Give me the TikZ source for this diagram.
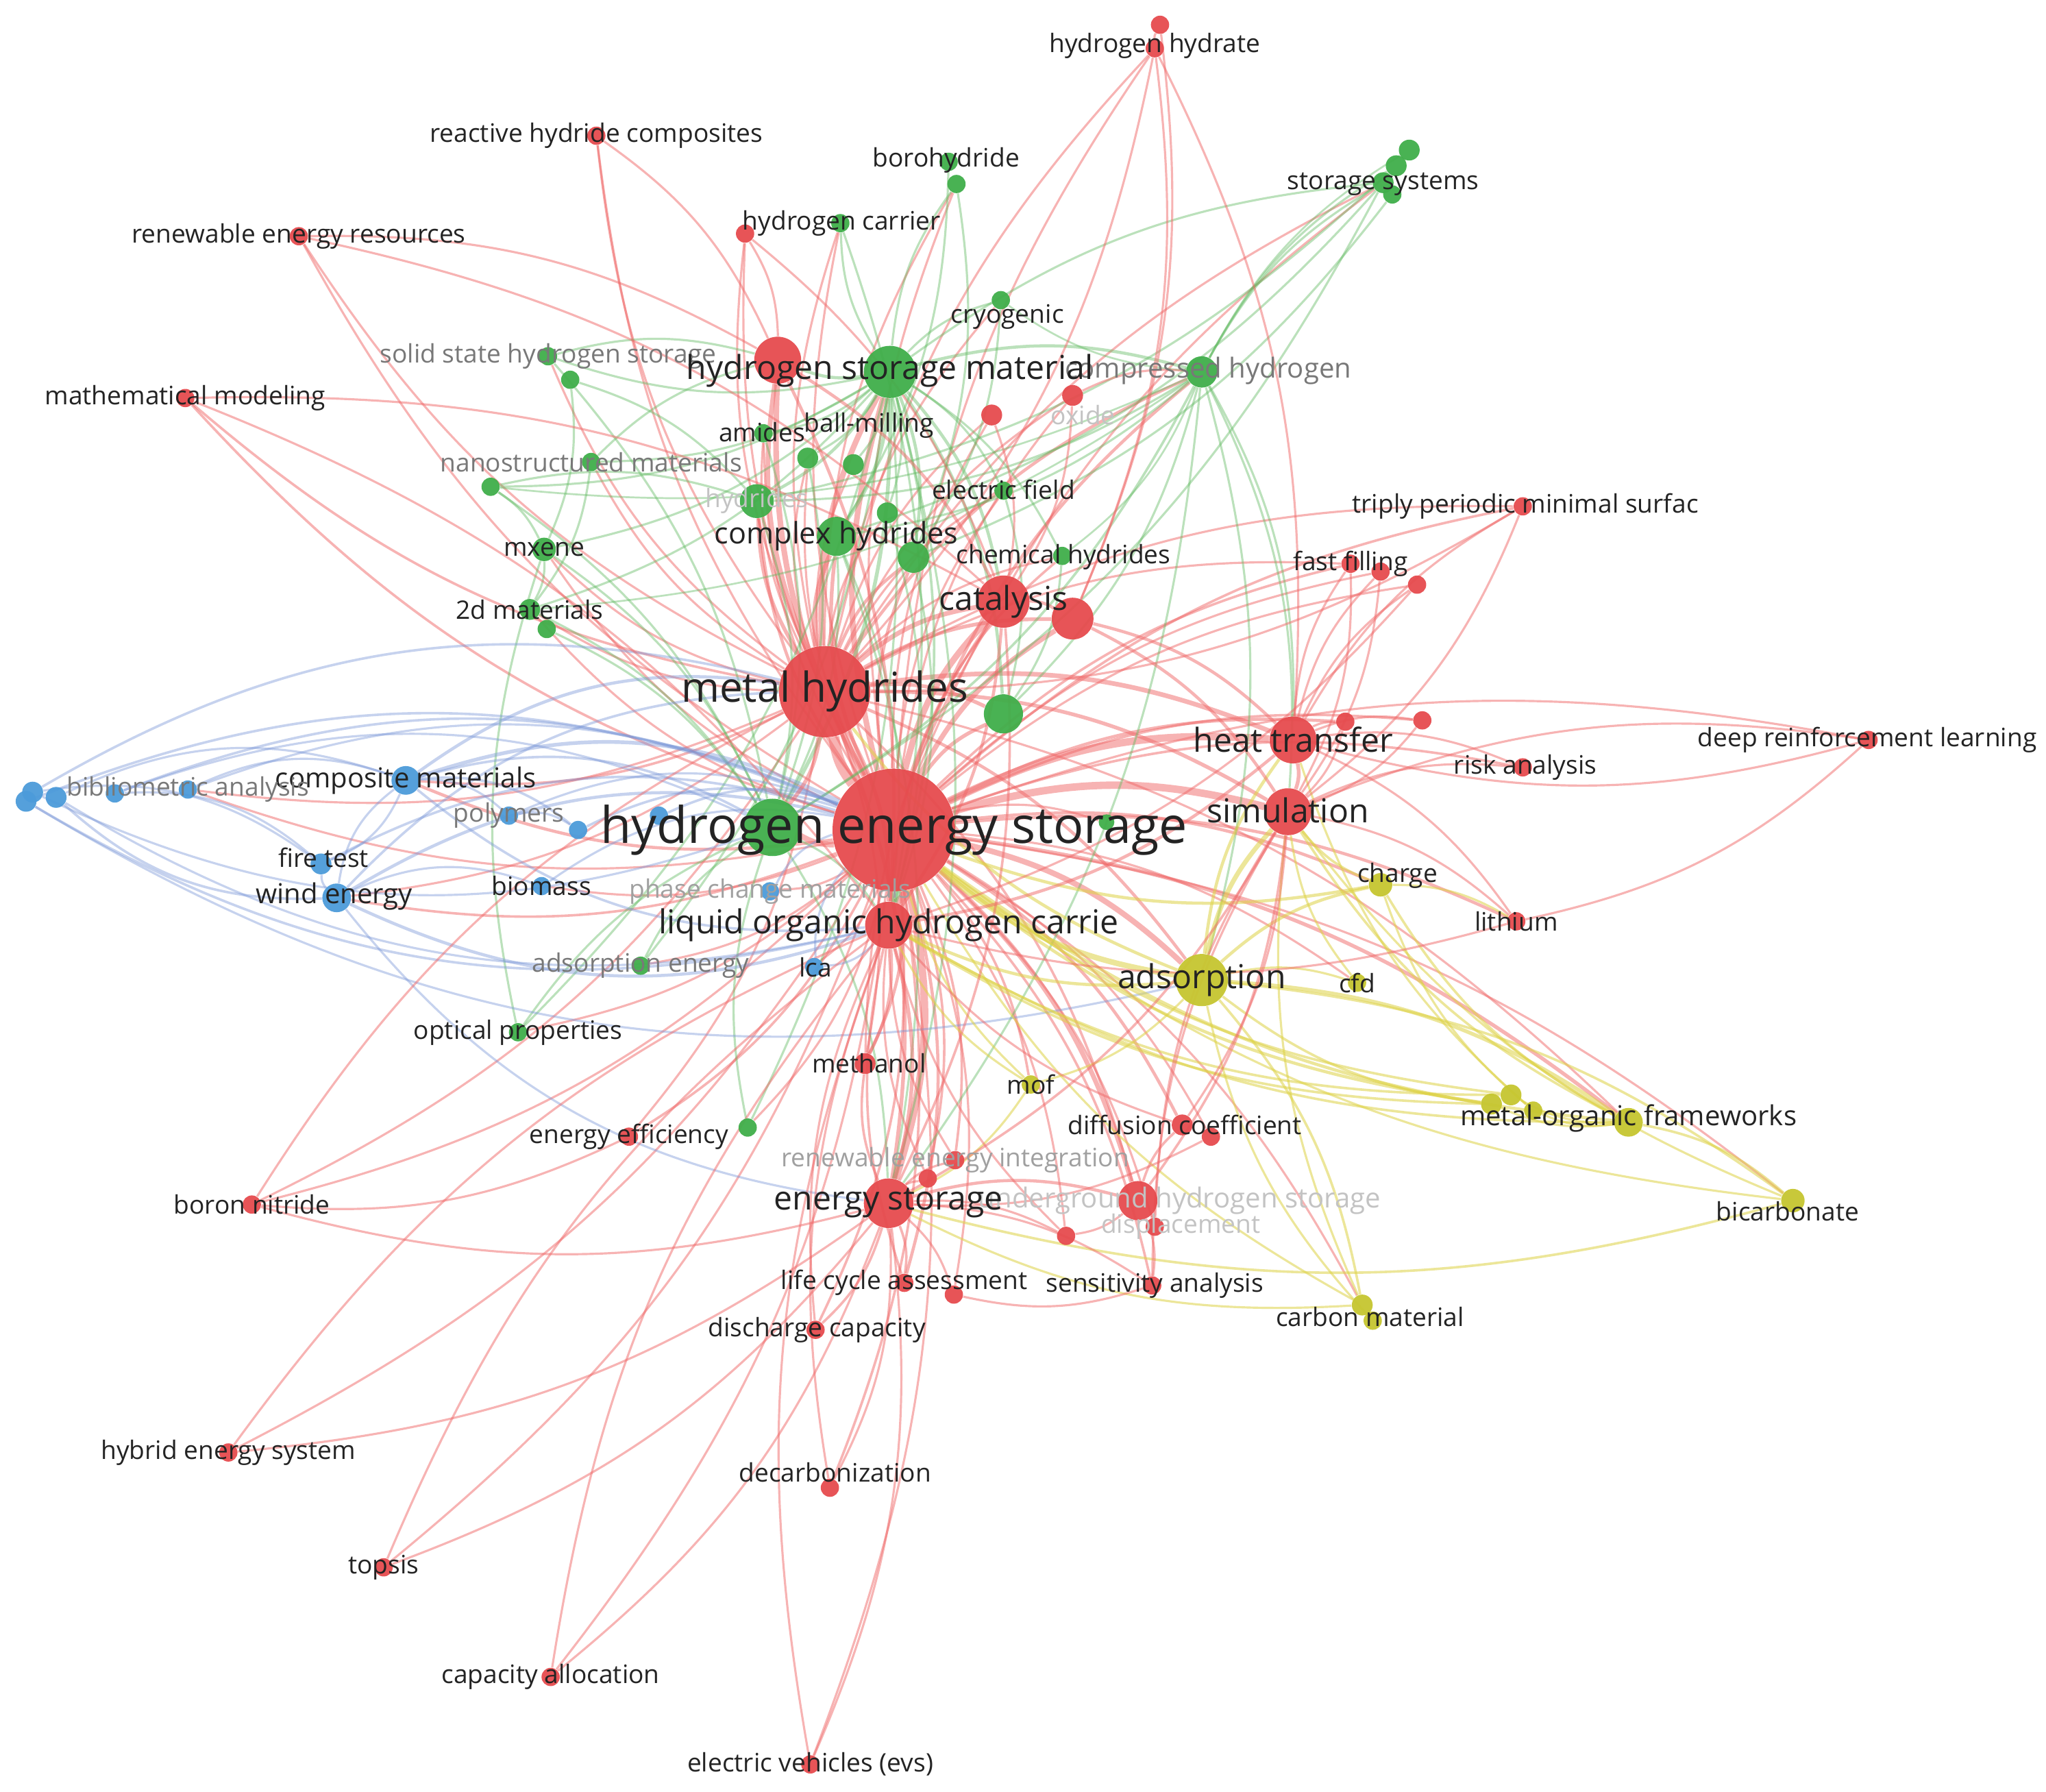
\documentclass[tikz,border=0pt]{standalone}
\usepackage{fontspec}
\setmainfont{Open Sans}
\pgfdeclarelayer{bg}
\pgfsetlayers{bg,main}
\definecolor{cR}{RGB}{230,75,78}
\definecolor{cG}{RGB}{64,174,74}
\definecolor{cB}{RGB}{76,155,218}
\definecolor{cY}{RGB}{198,198,48}
\definecolor{eRc}{RGB}{240,105,105}
\definecolor{eGc}{RGB}{95,185,95}
\definecolor{eBc}{RGB}{120,150,215}
\definecolor{eYc}{RGB}{222,210,70}
\definecolor{txt}{RGB}{35,35,35}
\definecolor{gA}{RGB}{120,120,120}
\definecolor{gB}{RGB}{160,160,160}
\definecolor{gC}{RGB}{195,195,195}
\tikzset{
  dotst/.style={circle, inner sep=0pt, draw=none, fill opacity=0.95},
  eR/.style={draw=eRc, draw opacity=0.5},
  eG/.style={draw=eGc, draw opacity=0.42},
  eB/.style={draw=eBc, draw opacity=0.42},
  eY/.style={draw=eYc, draw opacity=0.55},
  lS/.style={inner sep=0pt, text=txt, font=\fontsize{11.1}{13}\selectfont},
  lM/.style={inner sep=0pt, text=txt, font=\fontsize{12}{14}\selectfont},
  lCH/.style={inner sep=0pt, text=txt, font=\fontsize{12.9}{15}\selectfont},
  lL/.style={inner sep=0pt, text=txt, font=\fontsize{14.4}{17}\selectfont},
  lXL/.style={inner sep=0pt, text=txt, font=\fontsize{18}{21}\selectfont},
  lXXL/.style={inner sep=0pt, text=txt, font=\fontsize{22}{26}\selectfont},
  fa/.style={text=gA}, fb/.style={text=gB}, fc/.style={text=gC}
}
\newcommand\dotnode[5]{\node[dotst, fill=#4, minimum size=#5*0.04cm] (#1) at (#2,#3) {};}
\newcommand\lab[5][]{\node[#1] (#2) at (#3,#4) {#5};}
\begin{document}
\begin{tikzpicture}[x=0.02cm, y=-0.02cm]
\begin{pgfonlayer}{bg}
\fill[white] (0,0) rectangle (1568,1373);
\end{pgfonlayer}
\useasboundingbox (0,0) rectangle (1568,1373);
% ---------- red nodes
\dotnode{hes}{685}{636}{cR}{47}
\dotnode{mh}{632}{530}{cR}{35}
\dotnode{cat}{769}{461}{cR}{20}
\dotnode{cat2}{822}{474}{cR}{16}
\dotnode{ht}{991}{567}{cR}{18}
\dotnode{sim}{987}{622}{cR}{18}
\dotnode{lohc}{681}{709}{cR}{18}
\dotnode{es}{681}{922}{cR}{19}
\dotnode{uhs}{872}{920}{cR}{15}
\dotnode{rsm}{596}{276}{cR}{18}
\dotnode{hh}{885}{37}{cR}{7}
\dotnode{hhb}{889}{19}{cR}{7}
\dotnode{rhc}{457}{104}{cR}{7}
\dotnode{rer}{229}{181}{cR}{7}
\dotnode{mm}{142}{305}{cR}{7}
\dotnode{rc}{571}{179}{cR}{7}
\dotnode{ox}{822}{303}{cR}{8}
\dotnode{rs}{760}{318}{cR}{8}
\dotnode{tpms}{1167}{388}{cR}{7}
\dotnode{ff}{1035}{432}{cR}{7}
\dotnode{ffb}{1058}{438}{cR}{7}
\dotnode{ffc}{1086}{448}{cR}{7}
\dotnode{raa}{1031}{553}{cR}{7}
\dotnode{rab}{1090}{552}{cR}{7}
\dotnode{ra}{1167}{588}{cR}{7}
\dotnode{drl}{1432}{567}{cR}{7}
\dotnode{li}{1162}{706}{cR}{7}
\dotnode{dc}{906}{862}{cR}{8}
\dotnode{dcb}{928}{871}{cR}{7}
\dotnode{meth}{663}{815}{cR}{8}
\dotnode{ee}{482}{871}{cR}{7}
\dotnode{rei}{732}{889}{cR}{7}
\dotnode{reib}{711}{903}{cR}{7}
\dotnode{bn}{193}{923}{cR}{7}
\dotnode{sa}{883}{985}{cR}{7}
\dotnode{disp}{885}{940}{cR}{7}
\dotnode{rx}{817}{947}{cR}{7}
\dotnode{lcas}{693}{983}{cR}{7}
\dotnode{lcab}{731}{992}{cR}{7}
\dotnode{dcap}{625}{1019}{cR}{7}
\dotnode{hyb}{175}{1113}{cR}{7}
\dotnode{dec}{636}{1140}{cR}{7}
\dotnode{tops}{294}{1201}{cR}{7}
\dotnode{capa}{422}{1285}{cR}{7}
\dotnode{ev}{621}{1352}{cR}{7}
% ---------- green nodes
\dotnode{hsm}{682}{285}{cG}{20}
\dotnode{bh}{727}{124}{cG}{7}
\dotnode{bhb}{733}{141}{cG}{7}
\dotnode{hc}{644}{171}{cG}{7}
\dotnode{cry}{767}{230}{cG}{7}
\dotnode{ssa}{1080}{115}{cG}{8}
\dotnode{ssb}{1070}{127}{cG}{8}
\dotnode{ssc}{1060}{140}{cG}{8}
\dotnode{ssd}{1067}{149}{cG}{7}
\dotnode{ch}{921}{285}{cG}{12}
\dotnode{sshs}{420}{273}{cG}{7}
\dotnode{sshsb}{437}{291}{cG}{7}
\dotnode{am}{585}{332}{cG}{7}
\dotnode{bm}{619}{351}{cG}{8}
\dotnode{bmb}{654}{356}{cG}{8}
\dotnode{nm}{453}{354}{cG}{7}
\dotnode{nmb}{376}{373}{cG}{7}
\dotnode{hyd}{580}{384}{cG}{13}
\dotnode{ef}{769}{376}{cG}{7}
\dotnode{cxh}{641}{411}{cG}{15}
\dotnode{chh}{814}{426}{cG}{7}
\dotnode{mx}{417}{421}{cG}{9}
\dotnode{dm}{406}{467}{cG}{8}
\dotnode{dmb}{419}{482}{cG}{7}
\dotnode{ga}{700}{427}{cG}{12}
\dotnode{gb}{680}{393}{cG}{8}
\dotnode{gc}{769}{547}{cG}{15}
\dotnode{gd}{592}{634}{cG}{22}
\dotnode{ae}{491}{740}{cG}{7}
\dotnode{op}{397}{791}{cG}{7}
\dotnode{ge}{573}{864}{cG}{7}
\dotnode{gf}{848}{630}{cG}{6}
% ---------- blue nodes
\dotnode{cm}{311}{598}{cB}{11}
\dotnode{ba}{144}{605}{cB}{7}
\dotnode{bab}{88}{608}{cB}{7}
\dotnode{bac}{43}{611}{cB}{8}
\dotnode{bad}{25}{607}{cB}{8}
\dotnode{bae}{20}{614}{cB}{8}
\dotnode{poly}{390}{625}{cB}{7}
\dotnode{bx}{443}{636}{cB}{7}
\dotnode{by}{505}{625}{cB}{7}
\dotnode{ft}{246}{662}{cB}{8}
\dotnode{we}{258}{688}{cB}{11}
\dotnode{bio}{415}{679}{cB}{7}
\dotnode{pcm}{590}{683}{cB}{7}
\dotnode{lca}{624}{741}{cB}{7}
% ---------- yellow nodes
\dotnode{ads}{921}{751}{cY}{20}
\dotnode{chg}{1058}{678}{cY}{9}
\dotnode{cfd}{1040}{753}{cY}{7}
\dotnode{mof}{790}{831}{cY}{7}
\dotnode{mofw}{1248}{860}{cY}{11}
\dotnode{ya}{1143}{846}{cY}{8}
\dotnode{yb}{1158}{839}{cY}{8}
\dotnode{yc}{1175}{851}{cY}{7}
\dotnode{bic}{1374}{920}{cY}{9}
\dotnode{cmat}{1044}{1000}{cY}{8}
\dotnode{cmatb}{1052}{1012}{cY}{7}
% ---------- edges
\begin{pgfonlayer}{bg}
\foreach \tg/\wd in {mh/3.5, cat/2, cat2/1.6, ht/2.4, sim/2.4, lohc/2.4, es/2.4, uhs/1.5, rsm/1.8, hsm/1.8, hh/0.7, rhc/0.7, rer/0.7, mm/0.8, tpms/0.8, ff/0.8, ffb/0.7, ffc/0.7, raa/1, rab/0.8, ra/0.8, drl/0.7, li/1, dc/1, dcb/0.7, meth/1, ee/0.8, rei/0.8, reib/0.8, bn/0.7, sa/0.8, disp/0.7, rx/0.7, lcas/1, lcab/0.7, dcap/0.8, hyb/0.7, dec/0.8, tops/0.7, capa/0.7, ev/0.7, ox/0.7, rs/0.7, rc/0.7, ads/1.8, chg/1, cfd/0.7, mof/0.8, mofw/1.2, bic/0.7, cmat/0.7, cxh/1.2, hyd/1, gd/1.8, gc/1.2, ga/1, ch/1, cm/1, we/0.8, ba/0.7, pcm/0.7, lca/0.7, bio/0.7, chh/0.8, ef/0.7, mx/0.7, dm/0.7, op/0.7, ae/0.7, ge/0.7, ssc/0.7, bhb/0.7, hc/0.7, am/0.7, bm/0.7, gf/0.7}
  \draw[eR, line width=\wd*1.35pt] (hes) to[bend left=15] (\tg);
\foreach \tg/\wd in {cat/1.5, cat2/1.2, ht/1.5, sim/1.2, lohc/1.2, es/1.2, rsm/1.5, hsm/1.8, cxh/1.5, hyd/1.2, ga/1, gb/0.7, am/0.7, bm/0.7, bmb/0.7, nm/0.7, mx/0.7, dm/0.7, sshs/0.7, rer/0.7, rhc/0.7, mm/0.8, hh/0.7, ch/1, ef/0.7, chh/0.7, tpms/0.7, ff/0.7, ads/1, uhs/0.8, meth/0.7, ee/0.7, bn/0.7, cm/0.8, ba/0.7, we/0.7, gc/1.2, ox/0.7, rs/0.7, rc/0.7, hc/0.7, bhb/0.7, ssc/0.7, cry/0.7, mofw/0.7}
  \draw[eR, line width=\wd*1.35pt] (mh) to[bend left=15] (\tg);
\foreach \tg/\wd in {cxh/1.2, hyd/1, bm/0.7, bmb/0.7, am/0.7, ga/1, gb/0.7, ch/1, cry/0.7, bhb/0.7, hc/0.7, ssc/0.7, sshs/0.7, nm/0.7, nmb/0.7, mx/0.7, dm/0.7, ef/0.7, chh/0.7, gd/1.2, gc/1, ae/0.7, op/0.7, ge/0.7, cat/1, rsm/1, es/0.7, lohc/0.8}
  \draw[eG, line width=\wd*1.35pt] (hsm) to[bend left=15] (\tg);
\foreach \tg/\wd in {ssc/0.7, ssb/0.7, ssa/0.6, cry/0.6, hyd/0.7, cxh/0.7, gd/0.8, gc/0.7, sim/0.7, ht/0.7, ads/0.7, es/0.7, chh/0.6, nmb/0.6, dm/0.6}
  \draw[eG, line width=\wd*1.35pt] (ch) to[bend left=15] (\tg);
\foreach \sa/\tg in {ssa/ssb, ssb/ssc, ssc/gd, ssc/cxh, ssb/hyd, ssd/ga, nmb/mx, nmb/hyd, nmb/gd, mx/gd, dm/gd, dmb/gd, sshs/gd, sshsb/hyd, hyd/gd, cxh/gd, cxh/lohc, ga/lohc, hc/lohc, bh/cxh, bhb/ga, cry/ga, ef/gc, chh/gc, am/gd, bm/gd, ae/gd, op/gd, op/mx, ge/gd, gd/es, gd/lohc, gb/lohc, cxh/es, sshsb/mx, nm/dm, mx/dm, sshs/rsm, nm/rsm}
  \draw[eG, line width=0.95pt] (\sa) to[bend left=15] (\tg);
\foreach \sa/\tg/\wd in {bae/hes/0.8, bad/mh/0.8, bac/cm/0.7, bab/hes/0.8, ba/cm/0.7, bad/ft/0.7, bab/ft/0.7, cm/hes/1.2, cm/mh/1, cm/ft/0.7, cm/poly/0.7, cm/bx/0.8, ft/hes/0.8, we/hes/1, we/mh/0.8, poly/hes/0.7, poly/bx/0.7, bio/hes/0.7, pcm/hes/0.7, lca/hes/0.7, by/hes/0.8, bx/hes/0.8, cm/gd/0.8, ba/hes/0.7, bab/gd/0.7}
  \draw[eB, line width=\wd*1.35pt] (\sa) to[bend left=22] (\tg);
\foreach \sa/\tg/\wd in {bac/we/0.8, bae/lohc/0.8, cm/we/0.7, cm/lohc/0.8, ft/we/0.7, we/lohc/1, we/es/0.7, bio/we/0.7, lca/lohc/0.7, bae/ads/0.7, bac/lohc/0.7, bad/gd/0.7}
  \draw[eB, line width=\wd*1.35pt] (\sa) to[bend right=22] (\tg);
\foreach \sa/\tg/\wd in {ads/hes/1.8, ads/sim/1.5, ads/ht/1, ads/mofw/1.2, ads/bic/0.8, ads/cmat/0.8, ads/chg/1, ads/cfd/0.7, ads/mof/0.7, ads/lohc/1, ads/mh/1, mofw/ya/0.7, mofw/yb/0.7, mofw/yc/0.7, mofw/bic/0.8, mofw/hes/1, mofw/sim/0.8, mofw/chg/0.8, bic/hes/0.7, bic/es/0.8, cmat/hes/0.7, cmat/es/0.7, cmatb/ads/0.7, chg/sim/0.8, chg/hes/1, chg/li/0.7, cfd/sim/0.7, ya/hes/1, yb/hes/0.8, yc/chg/0.7, ya/ads/0.8, mof/hes/0.7, mof/es/0.7, mof/lohc/0.7, yb/lohc/0.8, yc/ht/0.7, cmat/sim/0.7, bic/sim/0.7, mofw/lohc/0.8, ya/lohc/0.8}
  \draw[eY, line width=\wd*1.35pt] (\sa) to[bend left=15] (\tg);
\foreach \sa/\tg/\wd in {ht/sim/1.2, ht/ff/0.7, ht/ffb/0.7, ht/ffc/0.7, ht/tpms/0.7, ht/raa/0.7, ht/rab/0.7, ht/ra/0.7, ht/li/0.7, sim/li/0.7, sim/ra/0.7, sim/drl/0.7, sim/dc/0.7, sim/uhs/0.8, tpms/sim/0.7, drl/li/0.7, es/dcap/0.8, es/lcas/0.8, es/lcab/0.7, es/dec/0.7, es/ev/0.7, es/capa/0.7, es/tops/0.7, es/hyb/0.7, es/bn/0.7, es/rei/0.7, es/reib/0.7, es/uhs/1, es/sa/0.7, es/rx/0.7, es/meth/0.8, lohc/meth/1, lohc/es/1.2, lohc/cat/0.8, uhs/sa/0.7, uhs/disp/0.7, uhs/dc/0.8, uhs/rx/0.7, ee/bn/0.7, sa/lcab/0.7, hh/hhb/0.7, hh/ht/0.7, hh/cat2/0.7, hhb/cat2/0.7, rc/cat/0.7, rc/rsm/0.7, rs/cat/0.7, ox/ch/0.7, ox/cat/0.7, rsm/cat/1, rsm/lohc/1, cat/cat2/1, cat2/ht/1, cat2/sim/1, rer/cat/0.7, rer/rsm/0.7, hyb/lohc/0.7, mm/lohc/0.7, ff/sim/0.7, ffb/sim/0.7, ffc/lohc/0.7, rab/sim/0.7, raa/sim/0.7, li/lohc/0.7, dc/lohc/0.7, dcb/es/0.7, rei/lohc/0.7, reib/lohc/0.7, lcas/lohc/0.8, dcap/lohc/0.7, dec/lohc/0.7, ev/lohc/0.7, capa/lohc/0.7, tops/lohc/0.7, bn/mh/0.7, sa/sim/0.7, disp/sim/0.7, rx/lohc/0.7, meth/cat/0.7, tpms/mh/0.7, rhc/rsm/0.7, hh/mh/0.7, drl/ht/0.7, mm/cat/0.7, cat/lohc/1, mh/gd/1.2, cat/es/0.8, ht/lohc/1, sim/es/0.8}
  \draw[eR, line width=\wd*1.35pt] (\sa) to[bend left=15] (\tg);
\end{pgfonlayer}
% ---------- labels
\lab[lS]{Lhh}{885}{35}{hydrogen hydrate}
\lab[lS]{Lrhc}{457}{104}{reactive hydride composites}
\lab[lS]{Lbh}{725}{123}{borohydride}
\lab[lS]{Lss}{1060}{141}{storage systems}
\lab[lS]{Lrer}{229}{181}{renewable energy resources}
\lab[lS]{Lhc}{645}{171}{hydrogen carrier}
\lab[lS]{Lcry}{772}{243}{cryogenic}
\lab[lS,fa]{Lsshs}{420}{273}{solid state hydrogen storage}
\lab[lM,fa]{Lch}{926}{284}{compressed hydrogen}
\lab[lL]{Lhsm}{682}{284}{hydrogen storage material}
\lab[lS]{Lmm}{142}{305}{mathematical modeling}
\lab[lS,fc]{Lox}{830}{318}{oxide}
\lab[lS]{Lam}{584}{331}{amides}
\lab[lS]{Lbm}{666}{326}{ball-milling}
\lab[lS,fa]{Lnm}{453}{354}{nanostructured materials}
\lab[lS,fc]{Lhyd}{580}{384}{hydrides}
\lab[lS]{Lef}{769}{375}{electric field}
\lab[lS]{Ltpms}{1169}{388}{triply periodic minimal surfac}
\lab[lCH]{Lcxh}{641}{411}{complex hydrides}
\lab[lS]{Lmx}{417}{421}{mxene}
\lab[lS]{Lchh}{815}{427}{chemical hydrides}
\lab[lS]{Lff}{1035}{432}{fast filling}
\lab[lL]{Lcat}{769}{461}{catalysis}
\lab[lS]{Ldm}{406}{467}{2d materials}
\lab[lXL]{Lmh}{632}{530}{metal hydrides}
\lab[lL]{Lht}{991}{567}{heat transfer}
\lab[lS]{Ldrl}{1431}{567}{deep reinforcement learning}
\lab[lS]{Lra}{1169}{588}{risk analysis}
\lab[lM]{Lcm}{311}{598}{composite materials}
\lab[lS,fa]{Lba}{144}{605}{bibliometric analysis}
\lab[lS,fa]{Lpoly}{390}{625}{polymers}
\lab[lL]{Lsim}{987}{621}{simulation}
\lab[lXXL]{Lhes}{685}{636}{hydrogen energy storage}
\lab[lS]{Lft}{248}{657}{fire test}
\lab[lS]{Lchg}{1071}{671}{charge}
\lab[lS]{Lbio}{415}{679}{biomass}
\lab[lS,fb]{Lpcm}{590}{683}{phase change materials}
\lab[lM]{Lwe}{256}{687}{wind energy}
\lab[lS]{Lli}{1162}{706}{lithium}
\lab[lL]{Llohc}{681}{709}{liquid organic hydrogen carrie}
\lab[lS,fa]{Lae}{491}{740}{adsorption energy}
\lab[lS]{Llca}{625}{741}{lca}
\lab[lL]{Lads}{921}{751}{adsorption}
\lab[lS]{Lcfd}{1040}{753}{cfd}
\lab[lS]{Lop}{397}{791}{optical properties}
\lab[lS]{Lmeth}{666}{815}{methanol}
\lab[lS]{Lmof}{790}{831}{mof}
\lab[lM]{Lmofw}{1248}{857}{metal-organic frameworks}
\lab[lS]{Ldc}{908}{862}{diffusion coefficient}
\lab[lS]{Lee}{482}{871}{energy efficiency}
\lab[lS,fb]{Lrei}{732}{889}{renewable energy integration}
\lab[lM,fc]{Luhs}{904}{920}{underground hydrogen storage}
\lab[lL]{Les}{681}{922}{energy storage}
\lab[lS]{Lbn}{193}{923}{boron nitride}
\lab[lS]{Lbic}{1370}{928}{bicarbonate}
\lab[lS,fc]{Ldisp}{905}{940}{displacement}
\lab[lS]{Llcas}{693}{983}{life cycle assessment}
\lab[lS]{Lsa}{885}{985}{sensitivity analysis}
\lab[lS]{Lcmat}{1050}{1009}{carbon material}
\lab[lS]{Ldcap}{626}{1019}{discharge capacity}
\lab[lS]{Lhyb}{175}{1113}{hybrid energy system}
\lab[lS]{Ldec}{640}{1128}{decarbonization}
\lab[lS]{Ltops}{294}{1201}{topsis}
\lab[lS]{Lcapa}{422}{1285}{capacity allocation}
\lab[lS]{Lev}{621}{1352}{electric vehicles (evs)}
\end{tikzpicture}
\end{document}
